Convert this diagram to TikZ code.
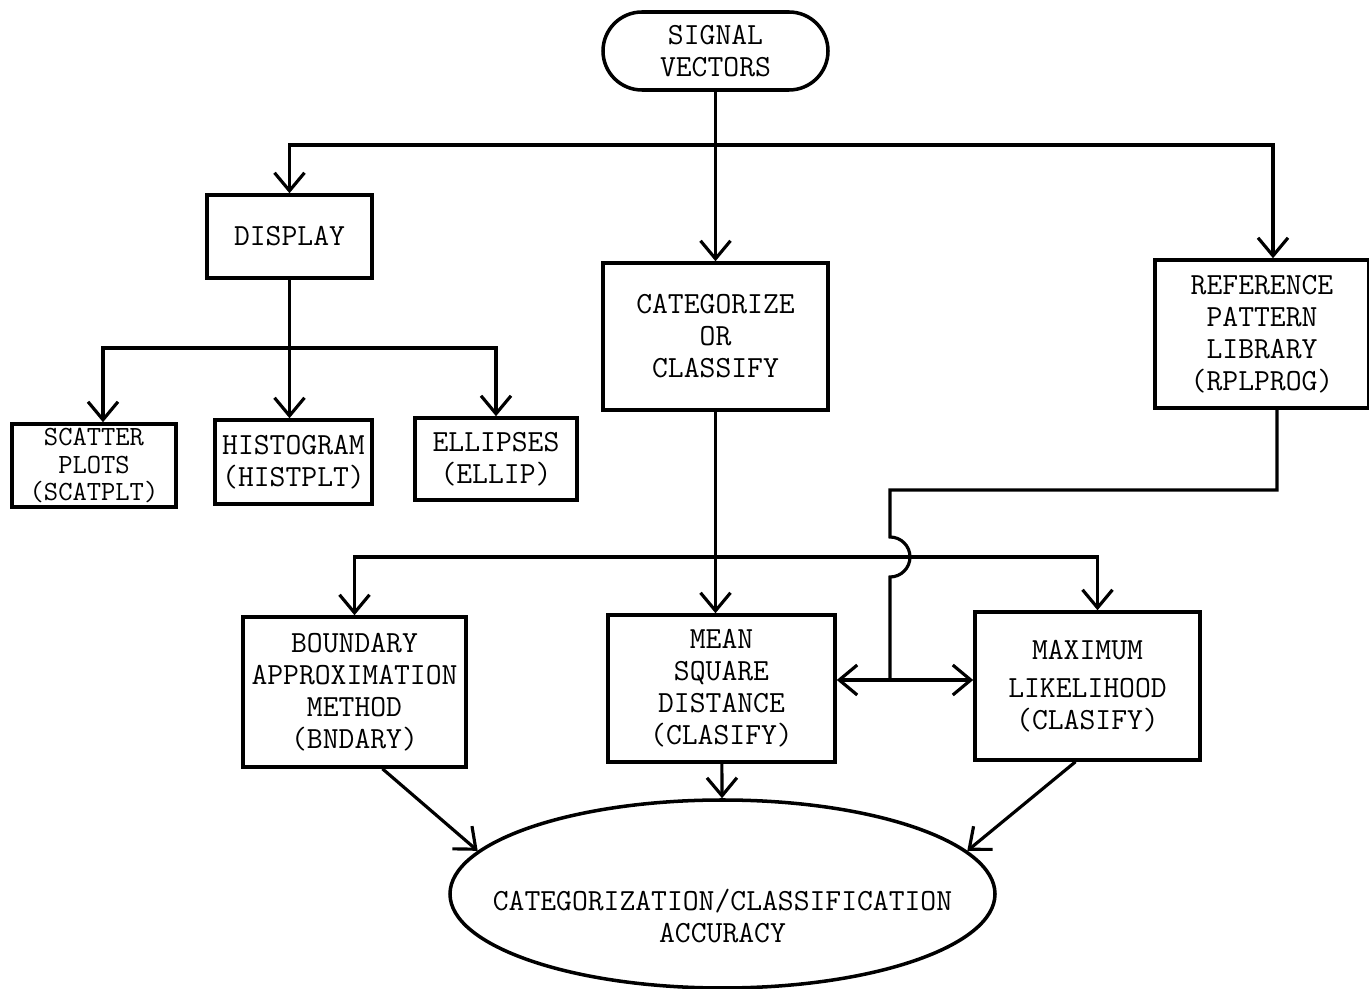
\documentclass[tikz,border=0pt]{standalone}
\usepackage{tikz}
\usepackage{xcolor}
\usetikzlibrary{arrows.meta,shapes.geometric}

\begin{document}
\begin{tikzpicture}
                \useasboundingbox (0,0) rectangle (27.38,-19.78);

                \begin{scope}[every node/.style = {draw, line width=2pt, align=center, inner sep=0pt,
                                font=\fontsize{17.5}{18.2}\selectfont\ttfamily}]
                    \node[rounded corners=0.78cm, minimum width=4.5cm, minimum height=1.56cm]
                        (sig) at (14.31,-1.02) {SIGNAL\\VECTORS};
                    \node[minimum width=3.3cm,  minimum height=1.66cm] (disp) at (5.79,-4.73)  {DISPLAY};
                    \node[minimum width=4.5cm,  minimum height=2.94cm] (cat)  at (14.31,-6.73) {CATEGORIZE\\OR\\CLASSIFY};
                    \node[minimum width=4.28cm, minimum height=2.96cm] (ref)  at (25.24,-6.68) {REFERENCE\\PATTERN\\LIBRARY\\(RPLPROG)};
                    \node[minimum width=3.28cm, minimum height=1.66cm, inner ysep=1.5pt,
                          font=\fontsize{15.8}{15.6}\selectfont\ttfamily]
                        (scat) at (1.88,-9.31)  {SCATTER\\PLOTS\\(SCATPLT)};
                    \node[minimum width=3.14cm, minimum height=1.68cm] (hist) at (5.87,-9.24)  {HISTOGRAM\\(HISTPLT)};
                    \node[minimum width=3.24cm, minimum height=1.64cm] (ell)  at (9.92,-9.18)  {ELLIPSES\\(ELLIP)};
                    \node[minimum width=4.46cm, minimum height=3.0cm]  (bnd)  at (7.09,-13.84) {BOUNDARY\\APPROXIMATION\\METHOD\\(BNDARY)};
                    \node[minimum width=4.54cm, minimum height=2.94cm] (msd)  at (14.43,-13.77) {MEAN\\SQUARE\\DISTANCE\\(CLASIFY)};
                    \node[minimum width=4.5cm,  minimum height=2.96cm] (mlk)  at (21.75,-13.72) {MAXIMUM\\[0.12cm]LIKELIHOOD\\(CLASIFY)};
                    \node[ellipse, minimum width=10.9cm, minimum height=3.76cm] (acc) at (14.45,-17.88) {};
                    \node[draw=none] (acctext) at (14.45,-18.32) {CATEGORIZATION/CLASSIFICATION\\ACCURACY};
                \end{scope}

                \coordinate (top) at (14.31,-2.9);
                \coordinate (dbr) at (5.79,-6.96);
                \coordinate (mbr) at (14.31,-11.14);
                \coordinate (jn)  at (17.8,-13.6);

                \begin{scope}[>={Straight Barb[length=3.6mm,width=6mm]},
                                line width=1.8pt]
                    \path [->] (sig) edge (cat);
                    \draw [->] (top) -| (disp.north);
                    \draw [->] (top) -| ([xshift=0.22cm]ref.north);
                    \draw [->] (disp.south) -- (disp.south |- hist.north);
                    \draw [->] (dbr) -| ([xshift=0.18cm]scat.north);
                    \draw [->] (dbr) -| (ell.north);
                    \draw [->] (cat.south) -- (cat.south |- msd.north);
                    \draw [->] (mbr) -| (bnd.north);
                    \draw [->] (mbr) -| ([xshift=0.2cm]mlk.north);
                    % reference library feed, hopping over the branch line
                    \draw ([xshift=0.3cm]ref.south) |- (17.8,-9.8) -- (17.8,-10.74)
                        arc[start angle=90, end angle=-90, radius=0.4] -- (jn);
                    \draw [->] (jn) -- (jn -| msd.east);
                    \draw [->] (jn) -- (jn -| mlk.west);
                    \path [->] (bnd.-70) edge (acc.170);
                    \path [->] (msd) edge (acc);
                    \path [->] (mlk.-99) edge (acc.10);
                \end{scope}
            \end{tikzpicture}
\end{document}
